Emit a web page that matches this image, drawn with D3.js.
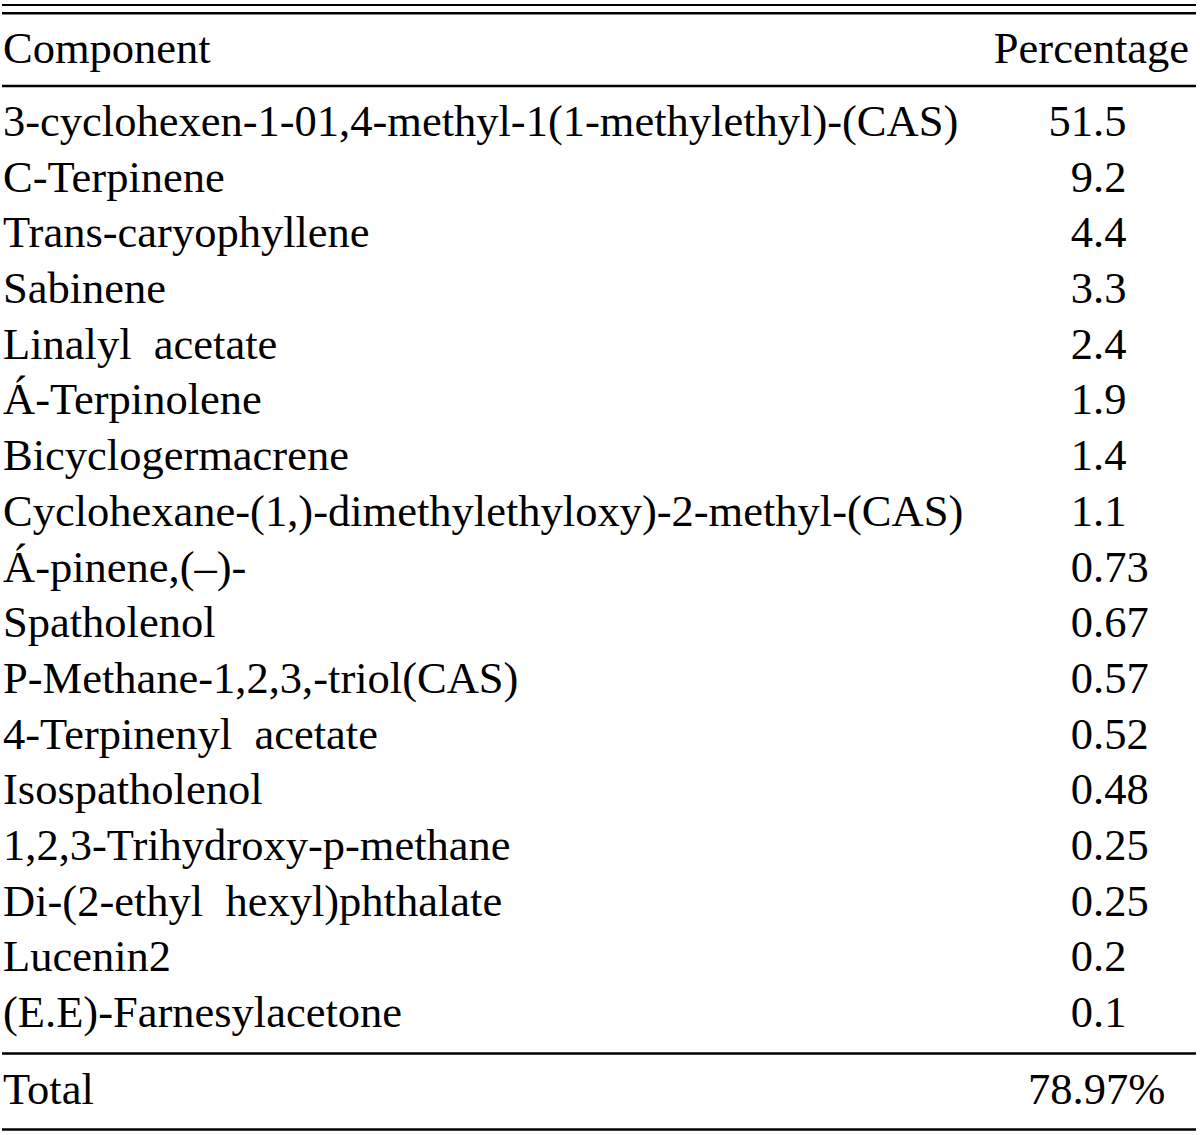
<!DOCTYPE html>
<html>
<head>
<meta charset="utf-8">
<script src="https://cdn.jsdelivr.net/npm/d3@7"></script>
<style>
  body { margin: 0; background: #fff; }
  text { font-family: "Liberation Serif", "Times New Roman", serif; fill: #000; }
</style>
</head>
<body>
<div id="table"></div>
<script>
// table contents
const headers = ["Component", "Percentage"];
const components = [
  "3-cyclohexen-1-01,4-methyl-1(1-methylethyl)-(CAS)",
  "C-Terpinene",
  "Trans-caryophyllene",
  "Sabinene",
  "Linalyl  acetate",
  "\u00C1-Terpinolene",
  "Bicyclogermacrene",
  "Cyclohexane-(1,)-dimethylethyloxy)-2-methyl-(CAS)",
  "\u00C1-pinene,(\u2013)-",
  "Spatholenol",
  "P-Methane-1,2,3,-triol(CAS)",
  "4-Terpinenyl  acetate",
  "Isospatholenol",
  "1,2,3-Trihydroxy-p-methane",
  "Di-(2-ethyl  hexyl)phthalate",
  "Lucenin2",
  "(E.E)-Farnesylacetone"
];
const percentages = ["51.5", "9.2", "4.4", "3.3", "2.4", "1.9", "1.4", "1.1", "0.73",
  "0.67", "0.57", "0.52", "0.48", "0.25", "0.25", "0.2", "0.1"];
const totalLabel = "Total";
const totalValue = "78.97%";

const width = 1200, height = 1135;
const fontSize = 44.5;
const leftX = 3, decimalX = 1093, rightX = 1189;

const svg = d3.select("#table").append("svg")
  .attr("width", width).attr("height", height);

// row index -> baseline
const y = d3.scaleLinear()
  .domain([0, components.length - 1])
  .range([136, 1027]);

// rules
const rules = [
  {y: 5, w: 2},
  {y: 13.3, w: 2.5},
  {y: 86, w: 2.5},
  {y: 1053.5, w: 2.5},
  {y: 1129.5, w: 2.5}
];
svg.selectAll("line.rule")
  .data(rules)
  .enter().append("line")
  .attr("class", "rule")
  .attr("x1", 2).attr("x2", 1196)
  .attr("y1", function(d) { return d.y; })
  .attr("y2", function(d) { return d.y; })
  .attr("stroke", "#000")
  .attr("stroke-width", function(d) { return d.w; });

// header
svg.append("text")
  .attr("x", leftX).attr("y", 63)
  .attr("font-size", fontSize)
  .text(headers[0]);
svg.append("text")
  .attr("x", rightX).attr("y", 63)
  .attr("font-size", fontSize)
  .attr("text-anchor", "end")
  .text(headers[1]);

// component names
svg.selectAll("text.name")
  .data(components)
  .enter().append("text")
  .attr("class", "name")
  .attr("x", leftX)
  .attr("y", function(d, i) { return y(i); })
  .attr("font-size", fontSize)
  .style("white-space", "pre")
  .attr("xml:space", "preserve")
  .text(function(d) { return d; });

// values, aligned on the decimal point
const vals = svg.selectAll("g.val")
  .data(percentages)
  .enter().append("g")
  .attr("class", "val")
  .attr("transform", function(d, i) { return "translate(0," + y(i) + ")"; });

vals.append("text")
  .attr("x", decimalX)
  .attr("font-size", fontSize)
  .attr("text-anchor", "end")
  .text(function(d) { return d.split(".")[0]; });

vals.append("text")
  .attr("x", decimalX)
  .attr("font-size", fontSize)
  .text(function(d) { return "." + d.split(".")[1]; });

// total row
svg.append("text")
  .attr("x", leftX).attr("y", 1104)
  .attr("font-size", fontSize)
  .text(totalLabel);
svg.append("text")
  .attr("x", 1028).attr("y", 1104)
  .attr("font-size", fontSize)
  .text(totalValue);
</script>
</body>
</html>
